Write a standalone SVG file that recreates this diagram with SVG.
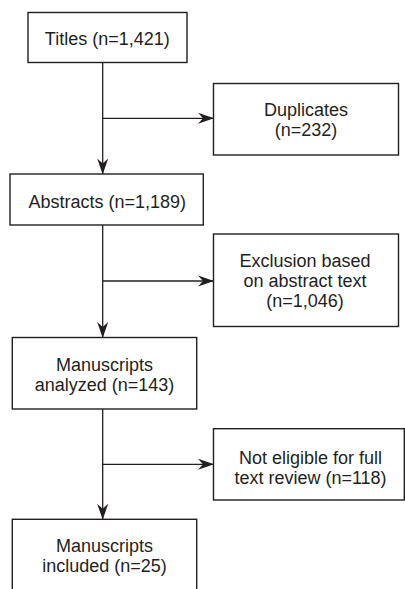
<svg xmlns="http://www.w3.org/2000/svg" width="405" height="589" viewBox="0 0 405 589">
  <style>
    .box { fill: #ffffff; stroke: #231f20; stroke-width: 1.4; }
    .lbl { font-family: "Liberation Sans", Arial, Helvetica, sans-serif; font-size: 18px; fill: #231f20; text-anchor: middle; }
    .conn { fill: none; stroke: #231f20; stroke-width: 1.3; }
  </style>
  <defs>
    <marker id="arrow" viewBox="0 0 16 12" refX="15.5" refY="6" markerWidth="16" markerHeight="12" markerUnits="userSpaceOnUse" orient="auto">
      <path d="M0,0.5 L16,6 L0,11.5 L5,6 Z" fill="#231f20"/>
    </marker>
  </defs>
  <rect width="405" height="589" fill="#ffffff"/>

  <g id="connectors">
    <line class="conn" x1="102.7" y1="62.5" x2="102.7" y2="174" marker-end="url(#arrow)"/>
    <line class="conn" x1="102.7" y1="118.3" x2="213.5" y2="118.3" marker-end="url(#arrow)"/>
    <line class="conn" x1="102.7" y1="225" x2="102.7" y2="337.5" marker-end="url(#arrow)"/>
    <line class="conn" x1="102.7" y1="281" x2="213.5" y2="281" marker-end="url(#arrow)"/>
    <line class="conn" x1="102.7" y1="409" x2="102.7" y2="519.3" marker-end="url(#arrow)"/>
    <line class="conn" x1="102.7" y1="464.3" x2="213.5" y2="464.3" marker-end="url(#arrow)"/>
  </g>

  <g id="titles">
    <rect class="box" x="28" y="12.5" width="159" height="50"/>
    <text class="lbl" x="107.3" y="44.5">Titles (n=1,421)</text>
  </g>

  <g id="duplicates">
    <rect class="box" x="213.5" y="83.5" width="185" height="71.5"/>
    <text class="lbl" x="306" y="115.7">Duplicates</text>
    <text class="lbl" x="306" y="135.7">(n=232)</text>
  </g>

  <g id="abstracts">
    <rect class="box" x="10" y="174" width="193.3" height="51"/>
    <text class="lbl" x="107.3" y="208.3">Abstracts (n=1,189)</text>
  </g>

  <g id="exclusion">
    <rect class="box" x="213.5" y="234" width="185" height="92.5"/>
    <text class="lbl" x="305" y="267">Exclusion based</text>
    <text class="lbl" x="305" y="287">on abstract text</text>
    <text class="lbl" x="305" y="307">(n=1,046)</text>
  </g>

  <g id="manuscripts-analyzed">
    <rect class="box" x="12.3" y="337.5" width="184.4" height="71.5"/>
    <text class="lbl" x="104.5" y="371">Manuscripts</text>
    <text class="lbl" x="104.5" y="390.7">analyzed (n=143)</text>
  </g>

  <g id="not-eligible">
    <rect class="box" x="213.5" y="428.7" width="190.8" height="71.3"/>
    <text class="lbl" x="310.5" y="463.7">Not eligible for full</text>
    <text class="lbl" x="310.5" y="483.7">text review (n=118)</text>
  </g>

  <g id="manuscripts-included">
    <rect class="box" x="12.3" y="519.3" width="184.4" height="80"/>
    <text class="lbl" x="104.5" y="552.3">Manuscripts</text>
    <text class="lbl" x="104.5" y="571.7">included (n=25)</text>
  </g>
</svg>
